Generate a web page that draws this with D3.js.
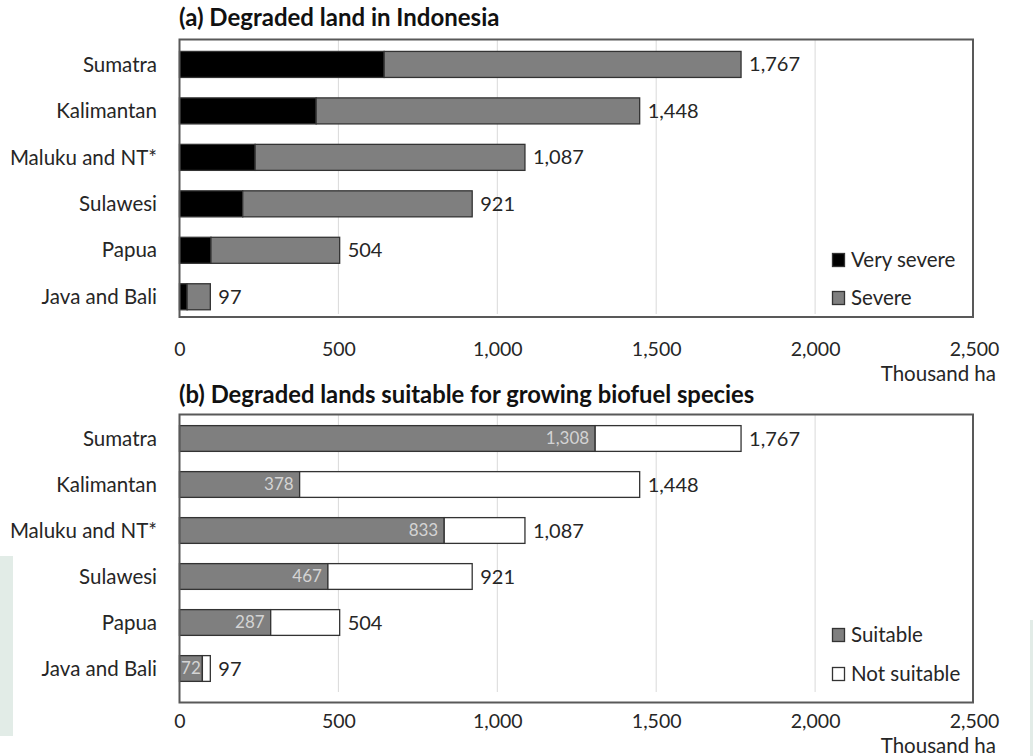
<!DOCTYPE html>
<html>
<head>
<meta charset="utf-8">
<script src="https://cdn.jsdelivr.net/npm/d3@7"></script>
<style>
  html, body { margin: 0; padding: 0; background: #ffffff; }
  svg { display: block; font-family: Lato, "Open Sans", sans-serif; }
</style>
</head>
<body>
<svg id="chart" width="1033" height="756"></svg>
<script>
// Regions, top to bottom
const regions = ["Sumatra", "Kalimantan", "Maluku and NT*", "Sulawesi", "Papua", "Java and Bali"];

// (a) degraded land, thousand ha
const verySevere = [644, 430, 238, 199, 99, 24];
const totalDegraded = [1767, 1448, 1087, 921, 504, 97];
const severe = totalDegraded.map((t, i) => t - verySevere[i]);

// (b) land suitable for biofuel species, thousand ha
const suitable = [1308, 378, 833, 467, 287, 72];
const notSuitable = totalDegraded.map((t, i) => t - suitable[i]);

const xTicks = [0, 500, 1000, 1500, 2000, 2500];
const unitLabel = "Thousand ha";

const svg = d3.select("#chart");
const fmt = d3.format(",");

const x = d3.scaleLinear().domain([0, 2500]).range([179.5, 974]);

const panels = [
  {
    title: "(a) Degraded land in Indonesia",
    titleSize: 24,
    titleY: 26,
    frame: [39.5, 317],
    band: [41.2, 320],
    gridBottom: 314,
    tickY: 356,
    unitY: 381,
    series: [
      { name: "Very severe", values: verySevere, fill: "#000000" },
      { name: "Severe", values: severe, fill: "#7f7f7f" }
    ],
    legendY: [260, 298],
    inner: null
  },
  {
    title: "(b) Degraded lands suitable for growing biofuel species",
    titleSize: 23.8,
    titleY: 403,
    frame: [414.5, 702.5],
    band: [415.5, 691.5],
    gridBottom: 692,
    tickY: 728,
    unitY: 753,
    series: [
      { name: "Suitable", values: suitable, fill: "#7f7f7f" },
      { name: "Not suitable", values: notSuitable, fill: "#ffffff" }
    ],
    legendY: [635, 674],
    inner: suitable
  }
];

// faint background shapes at the page edges
svg.append("rect").attr("x", 0).attr("y", 556).attr("width", 13).attr("height", 180).attr("fill", "#e2ece7");
svg.append("rect").attr("x", 1030).attr("y", 620).attr("width", 3).attr("height", 136).attr("fill", "#e2ece7");

panels.forEach(p => {
  const g = svg.append("g");
  const y = d3.scaleBand().domain(regions).range(p.band).paddingInner(0.44).paddingOuter(0.22);

  // title
  g.append("text")
    .attr("x", 179).attr("y", p.titleY)
    .attr("font-size", p.titleSize).attr("font-weight", 700).attr("fill", "#111")
    .text(p.title);

  // frame background
  g.append("rect")
    .attr("x", x(0)).attr("y", p.frame[0])
    .attr("width", x(2500) - x(0) - 1).attr("height", p.frame[1] - p.frame[0])
    .attr("fill", "#ffffff");

  // vertical gridlines
  g.selectAll(".grid").data(xTicks.slice(1, -1)).join("line")
    .attr("x1", d => x(d)).attr("x2", d => x(d))
    .attr("y1", p.frame[0]).attr("y2", p.gridBottom)
    .attr("stroke", "#d9d9d9").attr("stroke-width", 1);

  // stacked bars
  const stack = d3.stack().keys(d3.range(p.series.length))
    .value((d, k) => p.series[k].values[d])(d3.range(regions.length));

  stack.forEach((layer, k) => {
    g.selectAll(null).data(layer).join("rect")
      .attr("x", d => x(d[0]))
      .attr("y", (d, i) => y(regions[i]))
      .attr("width", d => x(d[1]) - x(d[0]))
      .attr("height", y.bandwidth())
      .attr("fill", p.series[k].fill)
      .attr("stroke", "#333")
      .attr("stroke-width", 1.3);
  });

  // values inside the first segment
  if (p.inner) {
    g.selectAll(null).data(p.inner).join("text")
      .attr("x", d => (x(d) - x(0) < 40) ? (x(0) + x(d)) / 2 : x(d) - 6)
      .attr("y", (d, i) => y(regions[i]) + y.bandwidth() / 2)
      .attr("dy", "0.35em")
      .attr("text-anchor", d => (x(d) - x(0) < 40) ? "middle" : "end")
      .attr("font-size", 17).attr("fill", "#d4d4d4")
      .text(d => fmt(d));
  }

  // totals after bars
  g.selectAll(null).data(totalDegraded).join("text")
    .attr("x", d => x(d) + 8)
    .attr("y", (d, i) => y(regions[i]) + y.bandwidth() / 2)
    .attr("dy", "0.35em")
    .attr("font-size", 20).attr("fill", "#262626")
    .text(d => fmt(d));

  // category labels
  g.selectAll(null).data(regions).join("text")
    .attr("x", 157)
    .attr("y", d => y(d) + y.bandwidth() / 2)
    .attr("dy", "0.35em")
    .attr("text-anchor", "end")
    .attr("font-size", 20.5).attr("fill", "#262626")
    .text(d => d);

  // frame outline
  g.append("rect")
    .attr("x", x(0)).attr("y", p.frame[0])
    .attr("width", x(2500) - x(0) - 1).attr("height", p.frame[1] - p.frame[0])
    .attr("fill", "none").attr("stroke", "#595959").attr("stroke-width", 2);

  // x axis labels
  const axis = d3.axisBottom(x).tickValues(xTicks).tickFormat(fmt).tickSize(0).tickPadding(0);
  const ax = g.append("g").attr("transform", `translate(0,${p.tickY})`).call(axis);
  ax.select(".domain").remove();
  ax.selectAll("text")
    .attr("dy", 0).attr("y", 0)
    .attr("font-size", 19.5).attr("fill", "#262626")
    .attr("font-family", "Lato, 'Open Sans', sans-serif");

  g.append("text")
    .attr("x", 996).attr("y", p.unitY)
    .attr("text-anchor", "end")
    .attr("font-size", 20.5).attr("fill", "#262626")
    .text(unitLabel);

  // legend
  p.series.forEach((s, k) => {
    const ly = p.legendY[k];
    g.append("rect")
      .attr("x", 832.5).attr("y", ly - 6.5).attr("width", 12).attr("height", 13)
      .attr("fill", s.fill).attr("stroke", "#333").attr("stroke-width", 1.3);
    g.append("text")
      .attr("x", 851).attr("y", ly).attr("dy", "0.35em")
      .attr("font-size", 20.5).attr("fill", "#262626")
      .text(s.name);
  });
});
</script>
</body>
</html>
